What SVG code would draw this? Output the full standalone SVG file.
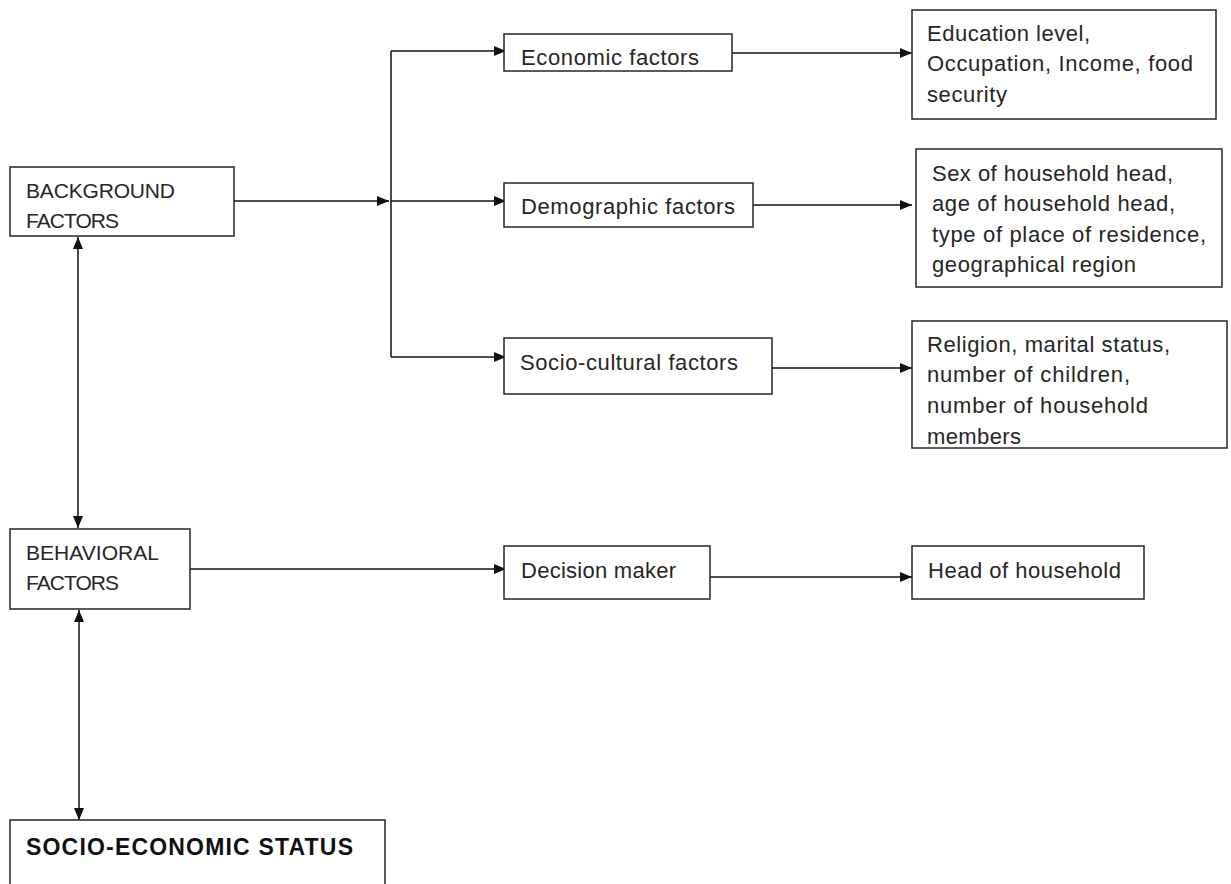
<svg xmlns="http://www.w3.org/2000/svg" width="1231" height="884" viewBox="0 0 1231 884">
<style>
  .box { fill: #ffffff; stroke: #262626; stroke-width: 1.5; }
  .t { font-family: "Liberation Sans", Arial, sans-serif; font-size: 22px; fill: #262626; }
  .tu { font-family: "Liberation Sans", Arial, sans-serif; font-size: 21px; fill: #262626; }
  .tb { font-family: "Liberation Sans", Arial, sans-serif; font-size: 23px; font-weight: bold; fill: #111111; }
  .c { fill: none; stroke: #111111; stroke-width: 1.5; }
</style>
<defs>
  <marker id="arr" markerUnits="userSpaceOnUse" markerWidth="14" markerHeight="12" refX="12" refY="6" orient="auto-start-reverse">
    <path d="M0,1 L12,6 L0,11 z" fill="#111111"/>
  </marker>
</defs>
<rect width="1231" height="884" fill="#ffffff"/>

<g id="connectors">
  <line class="c" x1="234" y1="201" x2="389" y2="201" marker-end="url(#arr)"/>
  <line class="c" x1="391" y1="51" x2="391" y2="357"/>
  <line class="c" x1="391" y1="51" x2="506" y2="51" marker-end="url(#arr)"/>
  <line class="c" x1="391" y1="201" x2="506" y2="201" marker-end="url(#arr)"/>
  <line class="c" x1="391" y1="357" x2="506" y2="357" marker-end="url(#arr)"/>
  <line class="c" x1="732" y1="53" x2="912" y2="53" marker-end="url(#arr)"/>
  <line class="c" x1="753" y1="205" x2="912" y2="205" marker-end="url(#arr)"/>
  <line class="c" x1="770" y1="368" x2="912" y2="368" marker-end="url(#arr)"/>
  <line class="c" x1="78" y1="237" x2="78" y2="528" marker-start="url(#arr)" marker-end="url(#arr)"/>
  <line class="c" x1="190" y1="569" x2="506" y2="569" marker-end="url(#arr)"/>
  <line class="c" x1="710" y1="577" x2="912" y2="577" marker-end="url(#arr)"/>
  <line class="c" x1="79" y1="610" x2="79" y2="820" marker-start="url(#arr)" marker-end="url(#arr)"/>
</g>

<g id="background">
  <rect class="box" x="10" y="167" width="224" height="69"/>
  <text class="tu" x="26" y="198" textLength="149">BACKGROUND</text>
  <text class="tu" x="26" y="228" textLength="93">FACTORS</text>
</g>

<g id="economic">
  <rect class="box" x="504" y="34" width="228" height="37"/>
  <text class="t" x="521" y="65" textLength="178">Economic factors</text>
</g>

<g id="demographic">
  <rect class="box" x="504" y="183" width="249" height="44"/>
  <text class="t" x="521" y="214" textLength="214">Demographic factors</text>
</g>

<g id="sociocultural">
  <rect class="box" x="504" y="338" width="268" height="56"/>
  <text class="t" x="520" y="370" textLength="218">Socio-cultural factors</text>
</g>

<g id="economic-items">
  <rect class="box" x="912" y="10" width="304" height="109"/>
  <text class="t" x="927" y="41" textLength="163">Education level,</text>
  <text class="t" x="927" y="71" textLength="266">Occupation, Income, food</text>
  <text class="t" x="927" y="102" textLength="80">security</text>
</g>

<g id="demographic-items">
  <rect class="box" x="916" y="149" width="306" height="138"/>
  <text class="t" x="932" y="181" textLength="241">Sex of household head,</text>
  <text class="t" x="932" y="211" textLength="243">age of household head,</text>
  <text class="t" x="932" y="242" textLength="274">type of place of residence,</text>
  <text class="t" x="932" y="272" textLength="204">geographical region</text>
</g>

<g id="sociocultural-items">
  <rect class="box" x="912" y="321" width="315" height="127"/>
  <text class="t" x="927" y="352" textLength="243">Religion, marital status,</text>
  <text class="t" x="927" y="382" textLength="203">number of children,</text>
  <text class="t" x="927" y="413" textLength="221">number of household</text>
  <text class="t" x="927" y="444" textLength="94">members</text>
</g>

<g id="behavioral">
  <rect class="box" x="10" y="529" width="180" height="80"/>
  <text class="tu" x="26" y="560" textLength="133">BEHAVIORAL</text>
  <text class="tu" x="26" y="590" textLength="93">FACTORS</text>
</g>

<g id="decision">
  <rect class="box" x="504" y="546" width="206" height="53"/>
  <text class="t" x="521" y="578" textLength="155">Decision maker</text>
</g>

<g id="head">
  <rect class="box" x="912" y="546" width="232" height="53"/>
  <text class="t" x="928" y="578" textLength="193">Head of household</text>
</g>

<g id="ses">
  <path class="box" d="M10,886 L10,820 L385,820 L385,886"/>
  <text class="tb" x="26" y="855" textLength="327">SOCIO-ECONOMIC STATUS</text>
</g>
</svg>
